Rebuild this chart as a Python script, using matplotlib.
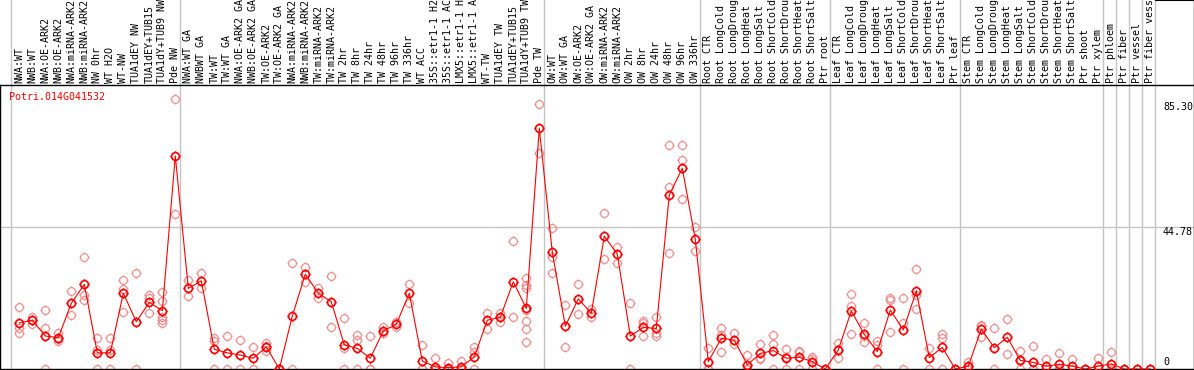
import matplotlib
matplotlib.use('Agg')
from matplotlib import pyplot as plt
from matplotlib.path import Path
import numpy as np

GENE = 'Potri.014G041532'

# column labels, as shown (already cut to 14 characters)
LABELS = [
    'NWA:WT', 'NWB:WT', 'NWA:OE-ARK2', 'NWB:OE-ARK2', 'NWA:miRNA-ARK2',
    'NWB:miRNA-ARK2', 'NW 0hr', 'WT H2O', 'WT-NW', 'TUA1dEY NW',
    'TUA1dEY+TUB15', 'TUA1dY+TUB9 NW', 'Pde NW',
    'NWA:WT GA', 'NWBWT GA', 'TW:WT', 'TW:WT GA', 'NWA:OE-ARK2 GA',
    'NWB:OE-ARK2 GA', 'TW:OE-ARK2', 'TW:OE-ARK2 GA', 'NWA:miRNA-ARK2',
    'NWB:miRNA-ARK2', 'TW:miRNA-ARK2', 'TW:miRNA-ARK2', 'TW 2hr', 'TW 8hr',
    'TW 24hr', 'TW 48hr', 'TW 96hr', 'TW 336hr', 'WT ACC', '35S::etr1-1 H2',
    '35S::etr1-1 AC', 'LMX5::etr1-1 H', 'LMX5::etr1-1 A', 'WT-TW',
    'TUA1dEY TW', 'TUA1dEY+TUB15', 'TUA1dY+TUB9 TW', 'Pde TW',
    'OW:WT', 'OW:WT GA', 'OW:OE-ARK2', 'OW:OE-ARK2 GA', 'OW:miRNA-ARK2',
    'OW:miRNA-ARK2', 'OW 2hr', 'OW 8hr', 'OW 24hr', 'OW 48hr', 'OW 96hr',
    'OW 336hr',
    'Root CTR', 'Root LongCold', 'Root LongDroug', 'Root LongHeat',
    'Root LongSalt', 'Root ShortCold', 'Root ShortDrou', 'Root ShortHeat',
    'Root ShortSalt', 'Ptr root',
    'Leaf CTR', 'Leaf LongCold', 'Leaf LongDroug', 'Leaf LongHeat',
    'Leaf LongSalt', 'Leaf ShortCold', 'Leaf ShortDrou', 'Leaf ShortHeat',
    'Leaf ShortSalt', 'Ptr leaf',
    'Stem CTR', 'Stem LongCold', 'Stem LongDroug', 'Stem LongHeat',
    'Stem LongSalt', 'Stem ShortCold', 'Stem ShortDrou', 'Stem ShortHeat',
    'Stem ShortSalt', 'Ptr shoot', 'Ptr xylem',
    'Ptr phloem', 'Ptr fiber', 'Ptr vessel', 'Ptr fiber vess',
]
GROUP_SIZES = [13, 28, 12, 10, 10, 11, 1, 1, 1, 1]

MEANS = [
    14.5, 15.4, 10.4, 9.9, 20.7, 26.7, 5.1, 5.1, 23.9, 14.9, 21.0, 18.4, 67.2,
    25.4, 27.8, 6.2, 5.1, 4.4, 3.4, 7.0, 0.0, 16.7, 29.9, 23.9, 21.2, 7.6,
    6.5, 3.4, 12.0, 14.1, 23.9, 2.5, 0.7, 0.4, 0.7, 3.8, 15.4, 16.3, 27.5,
    19.1, 75.9,
    36.8, 13.5, 22.1, 17.6, 41.9, 36.2, 10.4, 13.1, 12.8, 54.9, 63.3, 40.9,
    2.3, 9.7, 9.1, 1.3, 4.9, 5.8, 3.4, 3.7, 2.3, 0.0,
    6.0, 18.3, 10.9, 5.5, 18.6, 12.3, 24.6, 3.6, 6.8, 0.0,
    0.9, 12.6, 6.7, 10.0, 2.7, 2.1, 0.9, 1.5, 0.9, 0.0, 0.9,
    1.6, 0.0, 0.0, 0.0,
]

REPLICATES = [
    [19.5, 12.8, 11.3], [16.3, 15.6, 14.2], [18.5, 12.8, 0], [11.2, 9.6, 8.9],
    [24.5, 17.0], [35.2, 23.3, 21.8], [9.7, 6.0, 0], [9.7, 6.0, 0],
    [28.1, 25.2, 18.1], [30.2, 0], [23.3, 22.3, 17.6],
    [24.2, 21.3, 16.3, 15.5, 14.4], [85.3, 48.8],
    [28.1, 23.0], [30.2, 25.4], [9.7, 8.8, 0], [10.5, 0], [9.0, 0], [6.9, 0],
    [8.1, 7.3, 5.7], [0, 0], [33.3, 0], [32.1, 27.5], [25.4, 22.3],
    [29.2, 13.1], [16.0, 6.5, 0], [10.7, 9.1, 0], [10.4, 0, 0], [13.3, 11.3],
    [14.8, 13.4], [26.7, 20.7], [7.6, 0, 0], [3.4, 0, 0], [1.8, 0, 0],
    [2.5, 0, 0], [7.0, 5.5, 0], [17.8, 12.5], [17.8, 16.3, 14.9],
    [40.4, 16.3], [28.6, 26.5, 25.6, 18.6, 15.1, 12.5, 8.4], [83.6, 68.0],
    [44.4, 35.4, 30.2], [20.2, 6.8], [26.7, 17.2], [18.9, 16.3], [49.1, 34.6],
    [38.6, 33.3], [20.7, 0], [15.1, 14.4, 10.5], [16.3, 11.3, 10.5],
    [70.5, 57.5, 36.5], [70.5, 65.8, 53.5], [44.7, 37.2],
    [6.5, 0, 0], [13.0, 10.7, 5.3], [11.3, 7.8], [4.4, 0, 0], [7.9, 3.4, 3.0],
    [10.7, 7.9, 0], [6.3, 3.8, 0], [5.8, 5.3, 0], [3.9, 3.3, 0], [0, 0],
    [8.3, 6.3, 3.4], [23.6, 20.0, 11.0], [14.4, 10.5, 8.4], [8.8, 7.6, 0],
    [22.3, 21.8, 11.8], [22.3, 14.4, 0], [31.5, 23.3, 18.8], [6.5, 0],
    [10.9, 9.7, 0], [0, 0],
    [2.1, 0.6, 0], [13.9, 13.5, 10.2], [12.8, 0], [15.8, 4.7], [5.8, 2.4, 0],
    [7.3, 0, 0], [3.3, 0], [4.9, 0, 0], [3.3, 0], [0, 0], [3.4, 0],
    [5.3, 0, 0], [0, 0], [0, 0], [0, 0],
]

Y_MAX = 89.56
Y_TICKS = ['85.30', '44.78', '0']
Y_GRID = 44.78

W, H = 1194, 370
RED = '#ff0000'
PALE = '#ef9090'
GRAY = '#c4c4c4'
FONT = dict(family='DejaVu Sans Mono', size=7.2)


def _marker():
    """Open circle with four small ticks, like the original bitmap marker."""
    ticks = [
        Path([(0, 1), (0, 1.3)]), Path([(0, -1), (0, -1.3)]),
        Path([(1, 0), (1.3, 0)]), Path([(-1, 0), (-1.3, 0)]),
    ]
    return Path.make_compound_path(Path.unit_circle(), *ticks)


fig = plt.figure(figsize=(W / 100, H / 100), dpi=100)
head = fig.add_axes([0, 1 - 86 / H, 1193.5 / W, 86 / H])
ax = fig.add_axes([0, 1 / H, 1193.5 / W, 284 / H])

# map column index to pixels: first column at 19.3 px, 13 px apart
xlim = (-19.3 / 13, (1193.5 - 19.3) / 13)
for a in (head, ax):
    a.set_xlim(*xlim)
    a.set_xticks([])
    a.set_yticks([])
head.set_ylim(0, 86)
ax.set_ylim(0, Y_MAX)

bounds = np.concatenate([[0], np.cumsum(GROUP_SIZES)]) - 0.65
for b in bounds:
    head.axvline(b, color=GRAY, lw=1, zorder=1)
    ax.axvline(b, color=GRAY, lw=1, zorder=1)
ax.axhline(Y_GRID, color=GRAY, lw=1, zorder=1)

for i, lab in enumerate(LABELS):
    head.text(i, 3, lab, rotation=90, ha='center', va='bottom',
              clip_on=True, **FONT)

marker = _marker()
xs = np.arange(len(MEANS))
for i, reps in enumerate(REPLICATES):
    ax.plot([i] * len(reps), reps, ls='none', marker=marker, ms=7.3,
            mfc='none', mec=PALE, mew=0.9, zorder=2)
ax.plot(xs, MEANS, color=RED, lw=0.8, marker=marker, ms=7.3,
        mfc='none', mec=RED, mew=1.2, zorder=3)

for s in ax.spines.values():
    s.set_color('black')
    s.set_linewidth(1.0)
head.spines['left'].set_visible(False)
head.spines['top'].set_visible(False)
head.spines['right'].set_linewidth(1.0)
head.axhline(86, xmin=1155.7 / 1193.5, color='black', lw=1.5)

fig.text(9 / W, 1 - 97 / H, GENE, color=RED, va='center', ha='left', **FONT)
for lab, ypx in zip(Y_TICKS, [107, 232, 362]):
    fig.text(1163 / W, 1 - ypx / H, lab, va='center', ha='left', **FONT)

fig.savefig('out.png', dpi=100)
